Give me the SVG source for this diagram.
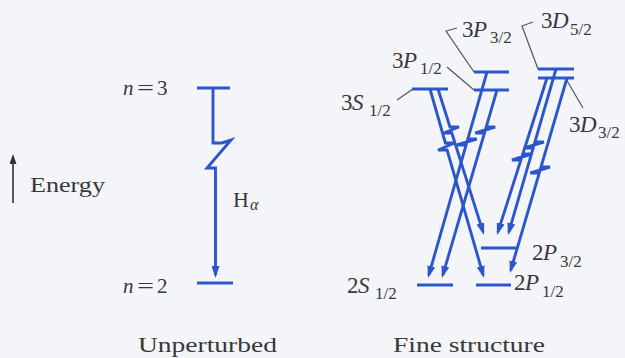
<svg xmlns="http://www.w3.org/2000/svg" width="625" height="358" viewBox="0 0 625 358">
<defs>
<marker id="ah" markerUnits="userSpaceOnUse" markerWidth="12" markerHeight="8" refX="9" refY="4" orient="auto"><path d="M0,0 L12,4 L0,8 z" fill="#2c56cc"/></marker>
<marker id="ahk" markerUnits="userSpaceOnUse" markerWidth="10" markerHeight="7" refX="8" refY="3.5" orient="auto"><path d="M0,0 L10,3.5 L0,7 z" fill="#333"/></marker>
</defs>
<style>
.lv{stroke:#2c56cc;stroke-width:3.2;fill:none}
.tr{stroke:#2c56cc;stroke-width:2.9;fill:none;stroke-linejoin:miter;marker-end:url(#ah)}
.ld{stroke:#555;stroke-width:1.2;fill:none}
text{font-family:"Liberation Serif","Times New Roman",serif;fill:#383838}
.m{font-size:23px}
.it{font-style:italic}
.s{font-size:17px}
</style>
<rect width="625" height="358" fill="#f4f5f9"/>

<g id="energy">
<line x1="13" y1="203" x2="13" y2="156" stroke="#333" stroke-width="1.6" marker-end="url(#ahk)"/>
<text x="30" y="192" font-size="20" textLength="75" lengthAdjust="spacingAndGlyphs">Energy</text>
</g>

<g id="unperturbed">
<line class="lv" x1="197" y1="88" x2="230" y2="88"/>
<line class="lv" x1="197" y1="283" x2="233" y2="283"/>
<text x="123" y="95" font-size="21"><tspan class="it">n</tspan><tspan x="137" textLength="17" lengthAdjust="spacingAndGlyphs">=</tspan><tspan x="157">3</tspan></text>
<text x="123" y="293" font-size="21"><tspan class="it">n</tspan><tspan x="137" textLength="17" lengthAdjust="spacingAndGlyphs">=</tspan><tspan x="157">2</tspan></text>
<text x="233" y="207" font-size="22">H</text>
<text x="250" y="210" font-size="16" class="it">α</text>
<text x="138" y="352" font-size="22" textLength="139" lengthAdjust="spacingAndGlyphs">Unperturbed</text>
</g>

<g id="fine-levels">
<line class="lv" x1="412" y1="89" x2="448" y2="89"/>
<line class="lv" x1="474" y1="90" x2="509" y2="90"/>
<line class="lv" x1="474" y1="72" x2="509" y2="72"/>
<line class="lv" x1="538" y1="69" x2="574" y2="69"/>
<line class="lv" x1="538" y1="78" x2="574" y2="78"/>
<line class="lv" x1="417" y1="285" x2="453" y2="285"/>
<line class="lv" x1="476" y1="285" x2="511" y2="285"/>
<line class="lv" x1="481" y1="248" x2="516" y2="248"/>
</g>

<g id="leaders">
<polyline class="ld" points="397,100 413,89"/>
<polyline class="ld" points="447,67 474,90"/>
<polyline class="ld" points="457,28 446,31 474,72"/>
<polyline class="ld" points="533,22 522,26 538,69"/>
<polyline class="ld" points="566,79 583,108"/>
</g>

<g id="labels">
<text class="m" y="110"><tspan x="341">3</tspan><tspan x="352" class="it">S</tspan><tspan x="369" y="116" class="s">1/2</tspan></text>
<text class="m" y="68"><tspan x="392">3</tspan><tspan x="403" class="it">P</tspan><tspan x="420" y="74" class="s">1/2</tspan></text>
<text class="m" y="37"><tspan x="462">3</tspan><tspan x="473" class="it">P</tspan><tspan x="490" y="43" class="s">3/2</tspan></text>
<text class="m" y="28"><tspan x="541">3</tspan><tspan x="552" class="it">D</tspan><tspan x="570" y="35" class="s">5/2</tspan></text>
<text class="m" y="132"><tspan x="569">3</tspan><tspan x="580" class="it">D</tspan><tspan x="598" y="138" class="s">3/2</tspan></text>
<text class="m" y="293"><tspan x="347">2</tspan><tspan x="358" class="it">S</tspan><tspan x="375" y="299" class="s">1/2</tspan></text>
<text class="m" y="290"><tspan x="514">2</tspan><tspan x="525" class="it">P</tspan><tspan x="542" y="297" class="s">1/2</tspan></text>
<text class="m" y="260"><tspan x="532">2</tspan><tspan x="543" class="it">P</tspan><tspan x="560" y="267" class="s">3/2</tspan></text>
<text x="393" y="352" font-size="22" textLength="152" lengthAdjust="spacingAndGlyphs">Fine structure</text>
</g>

<g id="connectors">
<path class="tr" d="M213,88 V143 H222 L231,140 L207,168 H215.5 V275"/>
<path class="tr" d="M438,89 L450,127 H459 L443.8,133 L451.8,133 L483.1,232.1"/>
<path class="tr" d="M430,89 L445.4,143 H454.4 L438.1,150 L447.1,150 L483.2,275.1"/>
<path class="tr" d="M487,72 L467.8,139 H476.8 L456.8,145 L466.1,145 L428.8,275.1"/>
<path class="tr" d="M497,90 L486.2,127 H495.2 L475.3,133 L484.5,133 L442.8,275.1"/>
<path class="tr" d="M556,69 L534.9,142 H543.9 L524.1,148 L533.2,148 L508.8,232.1"/>
<path class="tr" d="M547,78 L522.8,154 H531.8 L511.9,160 L520.9,160 L497.9,232.1"/>
<path class="tr" d="M567,78 L541,167 H550 L530.3,173 L539.3,173 L510.8,270.1"/>
</g>
</svg>
